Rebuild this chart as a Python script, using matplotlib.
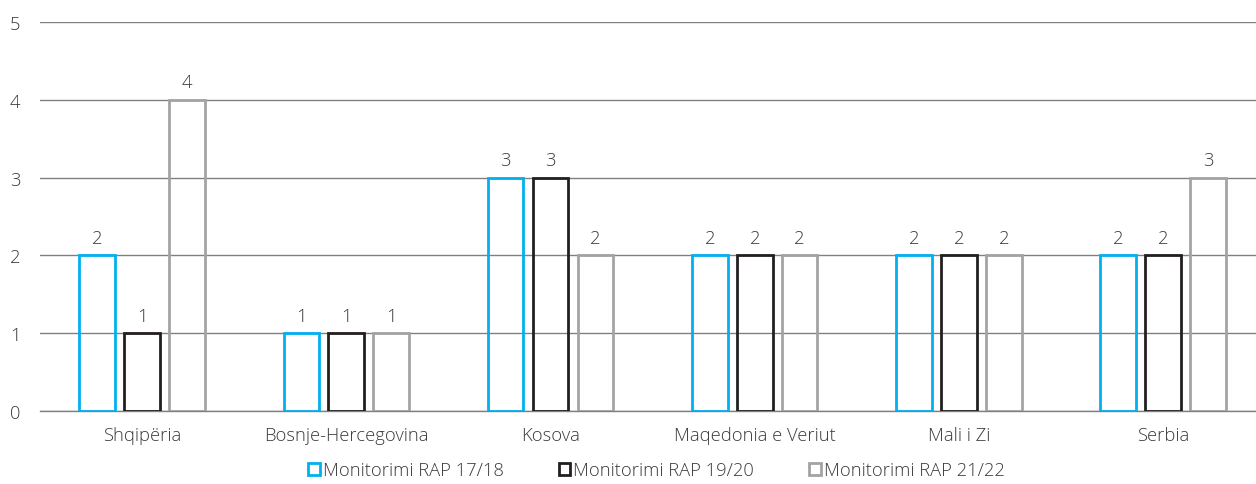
import matplotlib
matplotlib.use("Agg")
import matplotlib.pyplot as plt
import numpy as np
from matplotlib.patches import Patch

categories = ["Shqipëria", "Bosnje-Hercegovina", "Kosova", "Maqedonia e Veriut", "Mali i Zi", "Serbia"]
series_names = ["Monitorimi RAP 17/18", "Monitorimi RAP 19/20", "Monitorimi RAP 21/22"]
rap_17_18 = [2, 1, 3, 2, 2, 2]
rap_19_20 = [1, 1, 3, 2, 2, 2]
rap_21_22 = [4, 1, 2, 2, 2, 3]
yticks = [0, 1, 2, 3, 4, 5]

colors = ["#00b0f0", "#231f20", "#a3a3a3"]
plt.rcParams['font.family'] = ['Open Sans', 'DejaVu Sans']
plt.rcParams['font.weight'] = 'light'
FS = 13.2
TC = "#3a3a3a"

fig = plt.figure(figsize=(12.56, 4.85), dpi=100)
ax = fig.add_axes([40 / 1256, 0.1505, 1216 / 1256, 0.8021])

x = np.arange(len(categories))
offs = [-0.22, 0.0, 0.22]
w = 0.175
for vals, off, c, name in zip([rap_17_18, rap_19_20, rap_21_22], offs, colors, series_names):
    ax.bar(x + off, vals, w, facecolor="none", edgecolor=c, linewidth=2, zorder=3, label=name)
    for xi, v in zip(x + off, vals):
        ax.text(xi, v + 0.11, str(v), ha="center", va="bottom", fontsize=FS, color=TC)

ax.set_xlim(-0.5, -0.5 + 1216 / 204.2)
ax.set_ylim(0, 5)
ax.set_yticks(yticks)
ax.set_xticks(x)
ax.set_xticklabels(categories, fontsize=FS, color=TC)
ax.tick_params(axis="y", length=0, labelsize=FS, labelcolor=TC, pad=14)
ax.tick_params(axis="x", length=0, pad=11)
ax.grid(axis="y", color="#808080", linewidth=1, zorder=0)
for s in ["top", "right", "left"]:
    ax.spines[s].set_visible(False)
ax.spines["bottom"].set_color("#808080")
ax.spines["bottom"].set_linewidth(1)

handles = [Patch(facecolor="white", edgecolor=c, linewidth=2, label=n) for c, n in zip(colors, series_names)]
fig.legend(handles=handles, loc="center", bbox_to_anchor=(0.5225, 0.028), ncol=3, frameon=False,
           fontsize=FS, handlelength=0.65, handleheight=0.65, handletextpad=0.15, columnspacing=3.0,
           labelcolor=TC)

fig.savefig("out.png", dpi=100)
